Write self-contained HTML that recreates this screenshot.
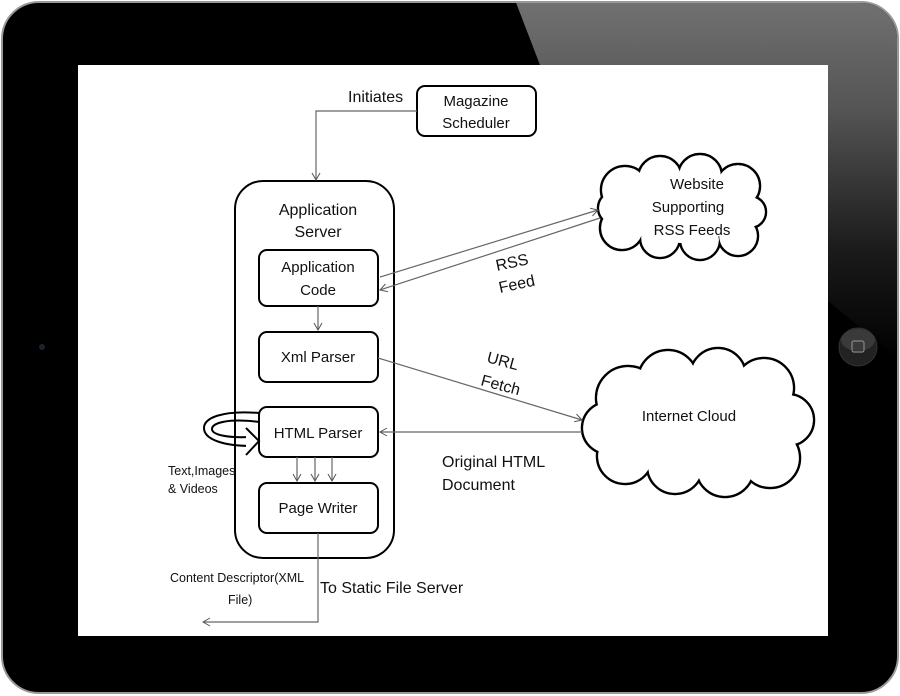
<!DOCTYPE html>
<html><head><meta charset="utf-8"><style>
html,body{margin:0;padding:0;background:#fff}
svg{display:block}
text{font-family:"Liberation Sans",sans-serif;fill:#111}
</style></head><body>
<svg width="900" height="696" viewBox="0 0 900 696" xmlns="http://www.w3.org/2000/svg">
<defs>
<linearGradient id="g" x1="0" y1="0" x2="0" y2="1">
<stop offset="0" stop-color="#717171"/><stop offset="0.3" stop-color="#555"/><stop offset="0.7" stop-color="#1a1a1a"/><stop offset="1" stop-color="#000"/>
</linearGradient>
<clipPath id="fr"><rect x="3" y="3" width="894" height="689" rx="36"/></clipPath>
<marker id="a" markerWidth="10" markerHeight="10" refX="8" refY="5" orient="auto" markerUnits="userSpaceOnUse"><path d="M1,1 L8,5 L1,9" fill="none" stroke="#555" stroke-width="1"/></marker>
</defs>
<rect x="2" y="2" width="896" height="691" rx="37" fill="#000" stroke="#999" stroke-width="2"/>
<g clip-path="url(#fr)">
<polygon points="515,0 900,0 900,360 540,65" fill="url(#g)"/>
</g>
<circle cx="42" cy="347" r="3" fill="#1a2430"/>
<circle cx="858" cy="347" r="19" fill="#222" stroke="#333"/>
<ellipse cx="858" cy="340" rx="17" ry="11" fill="#3a3a3a"/>
<rect x="852" y="341" width="12" height="11" rx="2" fill="none" stroke="#888" stroke-width="1.2"/>
<rect x="78" y="65" width="750" height="571" fill="#fff"/>

<g fill="#fff" stroke="#000" stroke-width="2">
<rect x="417" y="86" width="119" height="50" rx="8"/>
<rect x="235" y="181" width="159" height="377" rx="28"/>
<rect x="259" y="250" width="119" height="56" rx="8"/>
<rect x="259" y="332" width="119" height="50" rx="8"/>
<rect x="259" y="407" width="119" height="50" rx="8"/>
<rect x="259" y="483" width="119" height="50" rx="8"/>
</g>
<g stroke="#000" stroke-width="2.5" fill="#fff">
<circle cx="625" cy="190" r="24"/><circle cx="660" cy="178" r="22"/><circle cx="700" cy="176" r="22"/><circle cx="738" cy="186" r="22"/><circle cx="750" cy="212" r="16"/><circle cx="738" cy="236" r="20"/><circle cx="700" cy="240" r="20"/><circle cx="660" cy="238" r="20"/><circle cx="622" cy="228" r="22"/><circle cx="615" cy="208" r="17"/>
<circle cx="628" cy="398" r="32"/><circle cx="668" cy="380" r="30"/><circle cx="718" cy="376" r="28"/><circle cx="764" cy="388" r="30"/><circle cx="788" cy="420" r="26"/><circle cx="770" cy="458" r="30"/><circle cx="725" cy="468" r="29"/><circle cx="675" cy="466" r="28"/><circle cx="625" cy="456" r="28"/><circle cx="608" cy="428" r="26"/>
</g>
<g fill="#fff">
<circle cx="625" cy="190" r="22.8"/><circle cx="660" cy="178" r="20.8"/><circle cx="700" cy="176" r="20.8"/><circle cx="738" cy="186" r="20.8"/><circle cx="750" cy="212" r="14.8"/><circle cx="738" cy="236" r="18.8"/><circle cx="700" cy="240" r="18.8"/><circle cx="660" cy="238" r="18.8"/><circle cx="622" cy="228" r="20.8"/><circle cx="615" cy="208" r="15.8"/>
<ellipse cx="683" cy="208" rx="60" ry="35"/>
<circle cx="628" cy="398" r="30.8"/><circle cx="668" cy="380" r="28.8"/><circle cx="718" cy="376" r="26.8"/><circle cx="764" cy="388" r="28.8"/><circle cx="788" cy="420" r="24.8"/><circle cx="770" cy="458" r="28.8"/><circle cx="725" cy="468" r="27.8"/><circle cx="675" cy="466" r="26.8"/><circle cx="625" cy="456" r="26.8"/><circle cx="608" cy="428" r="24.8"/>
<ellipse cx="697" cy="422" rx="90" ry="50"/>
</g>

<g stroke="#666" stroke-width="1.2" fill="none" marker-end="url(#a)">
<path d="M417,111 H316 V180"/>
<path d="M318,306 V330"/>
<path d="M380,277 L598,210"/>
<path d="M600,218 L380,290"/>
<path d="M378,358 L582,420"/>
<path d="M582,432 L380,432"/>
<path d="M297,457 V481"/><path d="M315,457 V481"/><path d="M332,457 V481"/>
<path d="M318,533 V622 H203"/>
</g>
<path d="M259,413 C222,410 204,418 204,428 C204,440 225,446 252,446" fill="none" stroke="#000" stroke-width="2"/>
<path d="M259,422 C228,418 212,423 212,429 C212,435 228,438 250,437" fill="none" stroke="#000" stroke-width="2"/>
<path d="M246,428 L259,441 L246,455" fill="#fff" stroke="#000" stroke-width="2"/>

<g font-size="15" text-anchor="middle">
<text x="476" y="106">Magazine</text><text x="476" y="128">Scheduler</text>
<text x="318" y="215" font-size="16">Application</text><text x="318" y="237" font-size="16">Server</text>
<text x="318" y="272">Application</text><text x="318" y="295">Code</text>
<text x="318" y="362">Xml Parser</text>
<text x="318" y="438" fill="#311">HTML Parser</text>
<text x="318" y="513">Page Writer</text>
<text x="697" y="189">Website</text><text x="688" y="212">Supporting</text><text x="692" y="235">RSS Feeds</text>
<text x="689" y="421">Internet Cloud</text>
</g>
<g font-size="16">
<text x="348" y="102">Initiates</text>
<text x="497" y="271" transform="rotate(-12 497 271)">RSS</text>
<text x="500" y="293" transform="rotate(-12 500 293)">Feed</text>
<text x="486" y="362" transform="rotate(15 486 362)">URL</text>
<text x="480" y="385" transform="rotate(15 480 385)">Fetch</text>
<text x="442" y="467">Original HTML</text>
<text x="442" y="490">Document</text>
<text x="320" y="593">To Static File Server</text>
</g>
<g font-size="12.5">
<text x="168" y="475">Text,Images</text>
<text x="168" y="493">&amp; Videos</text>
<text x="170" y="582">Content Descriptor(XML</text>
<text x="228" y="604">File)</text>
</g>
</svg>
</body></html>
